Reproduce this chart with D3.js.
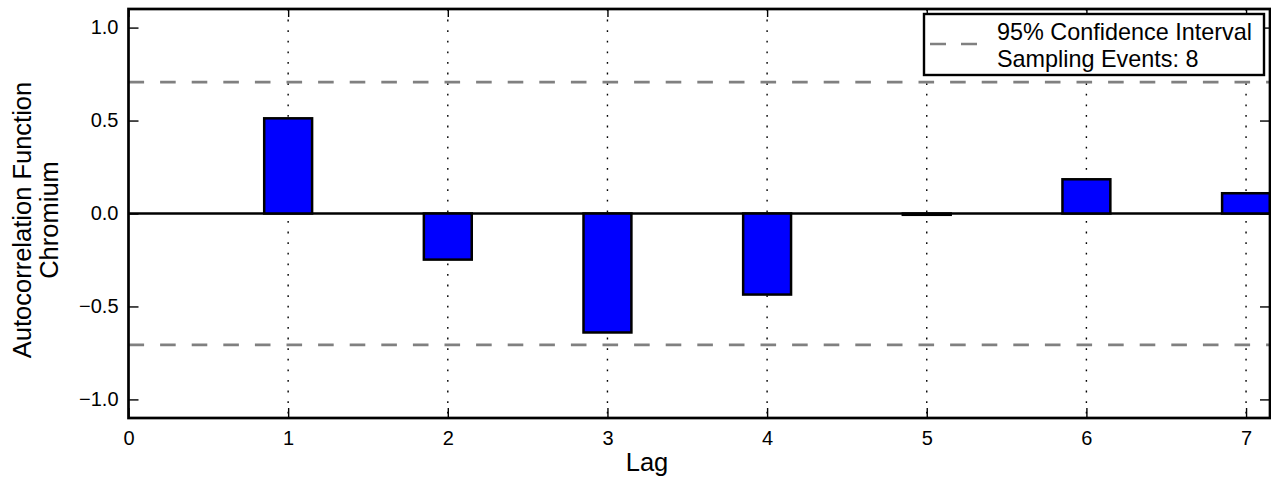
<!DOCTYPE html>
<html>
<head>
<meta charset="utf-8">
<script src="https://cdn.jsdelivr.net/npm/d3@7"></script>
<style>
  html, body { margin: 0; padding: 0; background: #fff; }
  svg { display: block; font-family: "Liberation Sans", Arial, Helvetica, sans-serif; }
</style>
</head>
<body>
<svg id="chart" width="1271" height="491"></svg>
<script>
// ---- data ----
const lags = [1, 2, 3, 4, 5, 6, 7];
const acfValues = [0.512, -0.248, -0.640, -0.436, -0.007, 0.184, 0.109];
const xTickValues = [0, 1, 2, 3, 4, 5, 6, 7];
const yTickValues = [-1.0, -0.5, 0.0, 0.5, 1.0];
const confidenceBound = [0.707, -0.707];
const legendLines = ["95% Confidence Interval", "Sampling Events: 8"];
const yLabelLines = ["Autocorrelation Function", "Chromium"];
const xLabel = "Lag";

// ---- layout ----
const L = 128.5, R = 1270, T = 9, B = 418;
const svg = d3.select("#chart");
const x = d3.scaleLinear().domain([0, 7.15]).range([L, R]);
const y = d3.scaleLinear().domain([-1.1, 1.1]).range([B, T]);
const barW = 0.3;

svg.append("defs").append("clipPath").attr("id", "plotclip")
  .append("rect").attr("x", L).attr("y", T).attr("width", R - L).attr("height", B - T);

const plot = svg.append("g").attr("clip-path", "url(#plotclip)");

// vertical dotted grid
plot.selectAll("line.grid").data(xTickValues.filter(d => d > 0)).enter()
  .append("line").attr("class", "grid")
  .attr("x1", d => x(d)).attr("x2", d => x(d))
  .attr("y1", T).attr("y2", B)
  .attr("stroke", "#000").attr("stroke-width", 1.4)
  .attr("stroke-dasharray", "1.8,8.8");

// confidence lines
plot.selectAll("line.conf").data(confidenceBound).enter()
  .append("line").attr("class", "conf")
  .attr("x1", L).attr("x2", R)
  .attr("y1", d => y(d)).attr("y2", d => y(d))
  .attr("stroke", "#808080").attr("stroke-width", 2.7)
  .attr("stroke-dasharray", "15.6,16");

// zero line
plot.append("line")
  .attr("x1", L).attr("x2", R).attr("y1", y(0)).attr("y2", y(0))
  .attr("stroke", "#000").attr("stroke-width", 2.3);

// bars
plot.selectAll("rect.bar").data(lags.map((l, i) => ({ l, v: acfValues[i] }))).enter()
  .append("rect").attr("class", "bar")
  .attr("x", d => x(d.l - barW / 2))
  .attr("width", d => x(d.l + barW / 2) - x(d.l - barW / 2))
  .attr("y", d => y(Math.max(0, d.v)))
  .attr("height", d => Math.abs(y(d.v) - y(0)))
  .attr("fill", "#0000ff").attr("stroke", "#000").attr("stroke-width", 2.5);

// axes
const fmtY = d => d3.format(".1f")(d).replace("-", "\u2212");
const axStyle = g => {
  g.select(".domain").remove();
  g.selectAll(".tick line").attr("stroke", "#000").attr("stroke-width", 1.4);
  g.selectAll(".tick text").attr("fill", "#000").style("font-size", "20px")
    .style("font-family", "'Liberation Sans', Arial, Helvetica, sans-serif");
};
svg.append("g").attr("transform", `translate(${L},0)`)
  .call(d3.axisLeft(y).tickValues(yTickValues).tickFormat(fmtY).tickSize(-10).tickPadding(10))
  .call(axStyle);
svg.append("g").attr("transform", `translate(${R},0)`)
  .call(d3.axisRight(y).tickValues(yTickValues).tickFormat("").tickSize(-10))
  .call(axStyle);
svg.append("g").attr("transform", `translate(0,${B})`)
  .call(d3.axisBottom(x).tickValues(xTickValues).tickFormat(d3.format("d")).tickSize(-10).tickPadding(13))
  .call(axStyle);
svg.append("g").attr("transform", `translate(0,${T})`)
  .call(d3.axisTop(x).tickValues(xTickValues).tickFormat("").tickSize(-8))
  .call(axStyle);

// spines
svg.append("rect").attr("x", L).attr("y", T).attr("width", R - L).attr("height", B - T)
  .attr("fill", "none").attr("stroke", "#000").attr("stroke-width", 2.7);

// legend
const lg = svg.append("g");
lg.append("rect").attr("x", 924).attr("y", 14).attr("width", 340).attr("height", 61)
  .attr("fill", "#fff").attr("stroke", "#000").attr("stroke-width", 2.4);
lg.append("line").attr("x1", 930).attr("x2", 978).attr("y1", 44).attr("y2", 44)
  .attr("stroke", "#808080").attr("stroke-width", 2.7).attr("stroke-dasharray", "16,15");
lg.selectAll("text").data(legendLines).enter().append("text")
  .attr("x", 997).attr("y", (d, i) => 39.6 + i * 27)
  .style("font-size", "23.4px").attr("fill", "#000").text(d => d);

// y label
const yl = svg.append("text").attr("transform", "translate(31,220) rotate(-90)")
  .attr("text-anchor", "middle").style("font-size", "25.5px").attr("fill", "#000");
yl.selectAll("tspan").data(yLabelLines).enter().append("tspan")
  .attr("x", 0).attr("y", (d, i) => i * 26.6).text(d => d);

// x label
svg.append("text").attr("x", 647).attr("y", 471).attr("text-anchor", "middle")
  .style("font-size", "25.5px").attr("fill", "#000").text(xLabel);
</script>
</body>
</html>
